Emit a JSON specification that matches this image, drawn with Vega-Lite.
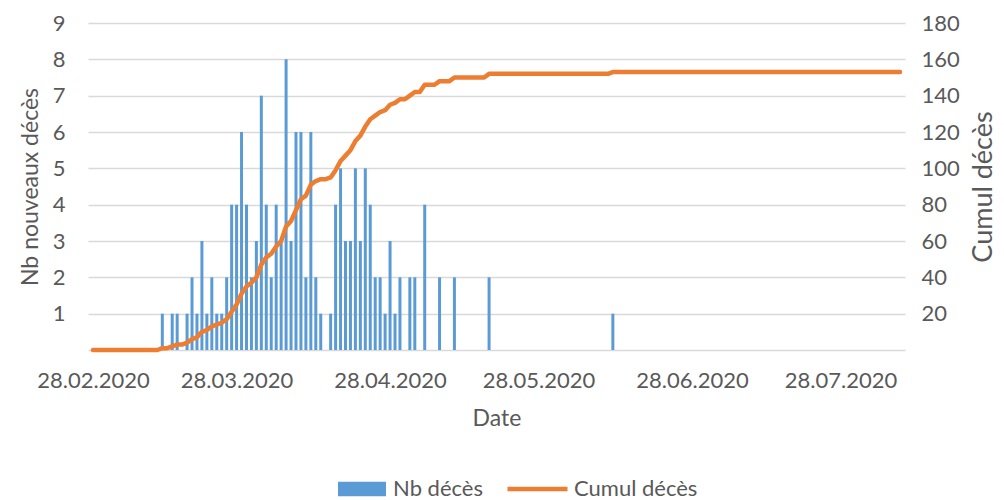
{
 "$schema": "https://vega.github.io/schema/vega-lite/v6.json",
 "width": 817, "height": 327,
 "autosize": {"type": "none"},
 "padding": {"left": 88, "top": 23, "right": 99, "bottom": 150},
 "config": {
  "font": "Lato",
  "view": {"stroke": null},
  "axis": {"labelColor": "#595959", "titleColor": "#595959", "labelFont": "Lato", "titleFont": "Lato", "titleFontWeight": "normal", "gridColor": "#d9d9d9", "gridWidth": 1.3, "domain": false, "ticks": false, "labelFontSize": 22, "titleFontSize": 23},
  "legend": {"labelColor": "#595959", "labelFont": "Lato", "labelFontSize": 22}
 },
 "data": {"values": [
  {"d":"2020-02-28","n":0,"c":0},{"d":"2020-02-29","n":0,"c":0},
  {"d":"2020-03-01","n":0,"c":0},{"d":"2020-03-02","n":0,"c":0},{"d":"2020-03-03","n":0,"c":0},{"d":"2020-03-04","n":0,"c":0},{"d":"2020-03-05","n":0,"c":0},{"d":"2020-03-06","n":0,"c":0},{"d":"2020-03-07","n":0,"c":0},{"d":"2020-03-08","n":0,"c":0},{"d":"2020-03-09","n":0,"c":0},{"d":"2020-03-10","n":0,"c":0},{"d":"2020-03-11","n":0,"c":0},{"d":"2020-03-12","n":0,"c":0},
  {"d":"2020-03-13","n":1,"c":1},{"d":"2020-03-14","n":0,"c":1},{"d":"2020-03-15","n":1,"c":2},{"d":"2020-03-16","n":1,"c":3},{"d":"2020-03-17","n":0,"c":3},{"d":"2020-03-18","n":1,"c":4},{"d":"2020-03-19","n":2,"c":6},{"d":"2020-03-20","n":1,"c":7},{"d":"2020-03-21","n":3,"c":10},{"d":"2020-03-22","n":1,"c":11},{"d":"2020-03-23","n":2,"c":13},{"d":"2020-03-24","n":1,"c":14},{"d":"2020-03-25","n":1,"c":15},{"d":"2020-03-26","n":2,"c":17},{"d":"2020-03-27","n":4,"c":21},{"d":"2020-03-28","n":4,"c":25},{"d":"2020-03-29","n":6,"c":31},{"d":"2020-03-30","n":4,"c":35},{"d":"2020-03-31","n":2,"c":37},
  {"d":"2020-04-01","n":3,"c":40},{"d":"2020-04-02","n":7,"c":47},{"d":"2020-04-03","n":4,"c":51},{"d":"2020-04-04","n":2,"c":53},{"d":"2020-04-05","n":4,"c":57},{"d":"2020-04-06","n":3,"c":60},{"d":"2020-04-07","n":8,"c":68},{"d":"2020-04-08","n":3,"c":71},{"d":"2020-04-09","n":6,"c":77},{"d":"2020-04-10","n":6,"c":83},{"d":"2020-04-11","n":2,"c":85},{"d":"2020-04-12","n":6,"c":91},{"d":"2020-04-13","n":2,"c":93},{"d":"2020-04-14","n":1,"c":94},{"d":"2020-04-15","n":0,"c":94},{"d":"2020-04-16","n":1,"c":95},{"d":"2020-04-17","n":4,"c":99},{"d":"2020-04-18","n":5,"c":104},{"d":"2020-04-19","n":3,"c":107},{"d":"2020-04-20","n":3,"c":110},{"d":"2020-04-21","n":5,"c":115},{"d":"2020-04-22","n":3,"c":118},{"d":"2020-04-23","n":5,"c":123},{"d":"2020-04-24","n":4,"c":127},{"d":"2020-04-25","n":2,"c":129},{"d":"2020-04-26","n":2,"c":131},{"d":"2020-04-27","n":1,"c":132},{"d":"2020-04-28","n":3,"c":135},{"d":"2020-04-29","n":1,"c":136},{"d":"2020-04-30","n":2,"c":138},
  {"d":"2020-05-01","n":0,"c":138},{"d":"2020-05-02","n":2,"c":140},{"d":"2020-05-03","n":2,"c":142},{"d":"2020-05-04","n":0,"c":142},{"d":"2020-05-05","n":4,"c":146},{"d":"2020-05-06","n":0,"c":146},{"d":"2020-05-07","n":0,"c":146},{"d":"2020-05-08","n":2,"c":148},{"d":"2020-05-09","n":0,"c":148},{"d":"2020-05-10","n":0,"c":148},{"d":"2020-05-11","n":2,"c":150},{"d":"2020-05-12","n":0,"c":150},{"d":"2020-05-13","n":0,"c":150},{"d":"2020-05-14","n":0,"c":150},{"d":"2020-05-15","n":0,"c":150},{"d":"2020-05-16","n":0,"c":150},{"d":"2020-05-17","n":0,"c":150},{"d":"2020-05-18","n":2,"c":152},{"d":"2020-05-19","n":0,"c":152},{"d":"2020-05-20","n":0,"c":152},{"d":"2020-05-21","n":0,"c":152},{"d":"2020-05-22","n":0,"c":152},{"d":"2020-05-23","n":0,"c":152},{"d":"2020-05-24","n":0,"c":152},{"d":"2020-05-25","n":0,"c":152},{"d":"2020-05-26","n":0,"c":152},{"d":"2020-05-27","n":0,"c":152},{"d":"2020-05-28","n":0,"c":152},{"d":"2020-05-29","n":0,"c":152},{"d":"2020-05-30","n":0,"c":152},{"d":"2020-05-31","n":0,"c":152},
  {"d":"2020-06-01","n":0,"c":152},{"d":"2020-06-02","n":0,"c":152},{"d":"2020-06-03","n":0,"c":152},{"d":"2020-06-04","n":0,"c":152},{"d":"2020-06-05","n":0,"c":152},{"d":"2020-06-06","n":0,"c":152},{"d":"2020-06-07","n":0,"c":152},{"d":"2020-06-08","n":0,"c":152},{"d":"2020-06-09","n":0,"c":152},{"d":"2020-06-10","n":0,"c":152},{"d":"2020-06-11","n":0,"c":152},{"d":"2020-06-12","n":1,"c":153},{"d":"2020-06-13","n":0,"c":153},{"d":"2020-06-14","n":0,"c":153},{"d":"2020-06-15","n":0,"c":153},{"d":"2020-06-16","n":0,"c":153},{"d":"2020-06-17","n":0,"c":153},{"d":"2020-06-18","n":0,"c":153},{"d":"2020-06-19","n":0,"c":153},{"d":"2020-06-20","n":0,"c":153},{"d":"2020-06-21","n":0,"c":153},{"d":"2020-06-22","n":0,"c":153},{"d":"2020-06-23","n":0,"c":153},{"d":"2020-06-24","n":0,"c":153},{"d":"2020-06-25","n":0,"c":153},{"d":"2020-06-26","n":0,"c":153},{"d":"2020-06-27","n":0,"c":153},{"d":"2020-06-28","n":0,"c":153},{"d":"2020-06-29","n":0,"c":153},{"d":"2020-06-30","n":0,"c":153},
  {"d":"2020-07-01","n":0,"c":153},{"d":"2020-07-02","n":0,"c":153},{"d":"2020-07-03","n":0,"c":153},{"d":"2020-07-04","n":0,"c":153},{"d":"2020-07-05","n":0,"c":153},{"d":"2020-07-06","n":0,"c":153},{"d":"2020-07-07","n":0,"c":153},{"d":"2020-07-08","n":0,"c":153},{"d":"2020-07-09","n":0,"c":153},{"d":"2020-07-10","n":0,"c":153},{"d":"2020-07-11","n":0,"c":153},{"d":"2020-07-12","n":0,"c":153},{"d":"2020-07-13","n":0,"c":153},{"d":"2020-07-14","n":0,"c":153},{"d":"2020-07-15","n":0,"c":153},{"d":"2020-07-16","n":0,"c":153},{"d":"2020-07-17","n":0,"c":153},{"d":"2020-07-18","n":0,"c":153},{"d":"2020-07-19","n":0,"c":153},{"d":"2020-07-20","n":0,"c":153},{"d":"2020-07-21","n":0,"c":153},{"d":"2020-07-22","n":0,"c":153},{"d":"2020-07-23","n":0,"c":153},{"d":"2020-07-24","n":0,"c":153},{"d":"2020-07-25","n":0,"c":153},{"d":"2020-07-26","n":0,"c":153},{"d":"2020-07-27","n":0,"c":153},{"d":"2020-07-28","n":0,"c":153},{"d":"2020-07-29","n":0,"c":153},{"d":"2020-07-30","n":0,"c":153},{"d":"2020-07-31","n":0,"c":153},
  {"d":"2020-08-01","n":0,"c":153},{"d":"2020-08-02","n":0,"c":153},{"d":"2020-08-03","n":0,"c":153},{"d":"2020-08-04","n":0,"c":153},{"d":"2020-08-05","n":0,"c":153},{"d":"2020-08-06","n":0,"c":153},{"d":"2020-08-07","n":0,"c":153},{"d":"2020-08-08","n":0,"c":153},{"d":"2020-08-09","n":0,"c":153}
 ]},
 "layer": [
  {
   "mark": {"type": "bar", "width": 3},
   "encoding": {
    "x": {"field": "d", "type": "temporal",
     "scale": {"type": "utc", "domain": [{"year": 2020, "month": "feb", "date": 28, "utc": true}, {"year": 2020, "month": "aug", "date": 9, "utc": true}]},
     "axis": {"title": "Date", "format": "%d.%m.%Y", "grid": false, "labelPadding": 20, "titlePadding": 16,
      "values": [{"year": 2020, "month": "feb", "date": 28, "utc": true}, {"year": 2020, "month": "mar", "date": 28, "utc": true}, {"year": 2020, "month": "apr", "date": 28, "utc": true}, {"year": 2020, "month": "may", "date": 28, "utc": true}, {"year": 2020, "month": "jun", "date": 28, "utc": true}, {"year": 2020, "month": "jul", "date": 28, "utc": true}]}},
    "y": {"field": "n", "type": "quantitative", "scale": {"domain": [0, 9]},
     "axis": {"title": "Nb nouveaux décès", "values": [0, 1, 2, 3, 4, 5, 6, 7, 8, 9], "labelExpr": "datum.value == 0 ? '' : datum.label", "labelPadding": 23, "titlePadding": 10}},
    "color": {"datum": "Nb décès", "scale": {"range": ["#5B9BD5"]},
     "legend": {"orient": "none", "legendX": 250, "legendY": 456, "title": null, "clipHeight": 20, "labelOffset": 7, "symbolType": "M-1,-0.3H1V0.3H-1Z", "symbolSize": 2304, "symbolStrokeWidth": 0, "symbolOpacity": 1}}
   }
  },
  {
   "mark": {"type": "line", "strokeWidth": 4.5, "strokeCap": "round", "strokeJoin": "round"},
   "encoding": {
    "x": {"field": "d", "type": "temporal"},
    "y": {"field": "c", "type": "quantitative", "scale": {"domain": [0, 180]},
     "axis": {"orient": "right", "title": "Cumul décès", "titleAngle": 270, "titleFontSize": 27, "grid": false, "values": [0, 20, 40, 60, 80, 100, 120, 140, 160, 180], "labelExpr": "datum.value == 0 ? '' : datum.label", "labelPadding": 16, "titlePadding": 38}},
    "stroke": {"datum": "Cumul décès", "scale": {"range": ["#ED7D31"]},
     "legend": {"orient": "none", "legendX": 417, "legendY": 456, "title": null, "clipHeight": 20, "labelOffset": 4, "symbolType": "stroke", "symbolSize": 3600, "symbolStrokeWidth": 4.5}}
   }
  }
 ],
 "resolve": {"scale": {"y": "independent", "color": "independent", "stroke": "independent"}}
}
